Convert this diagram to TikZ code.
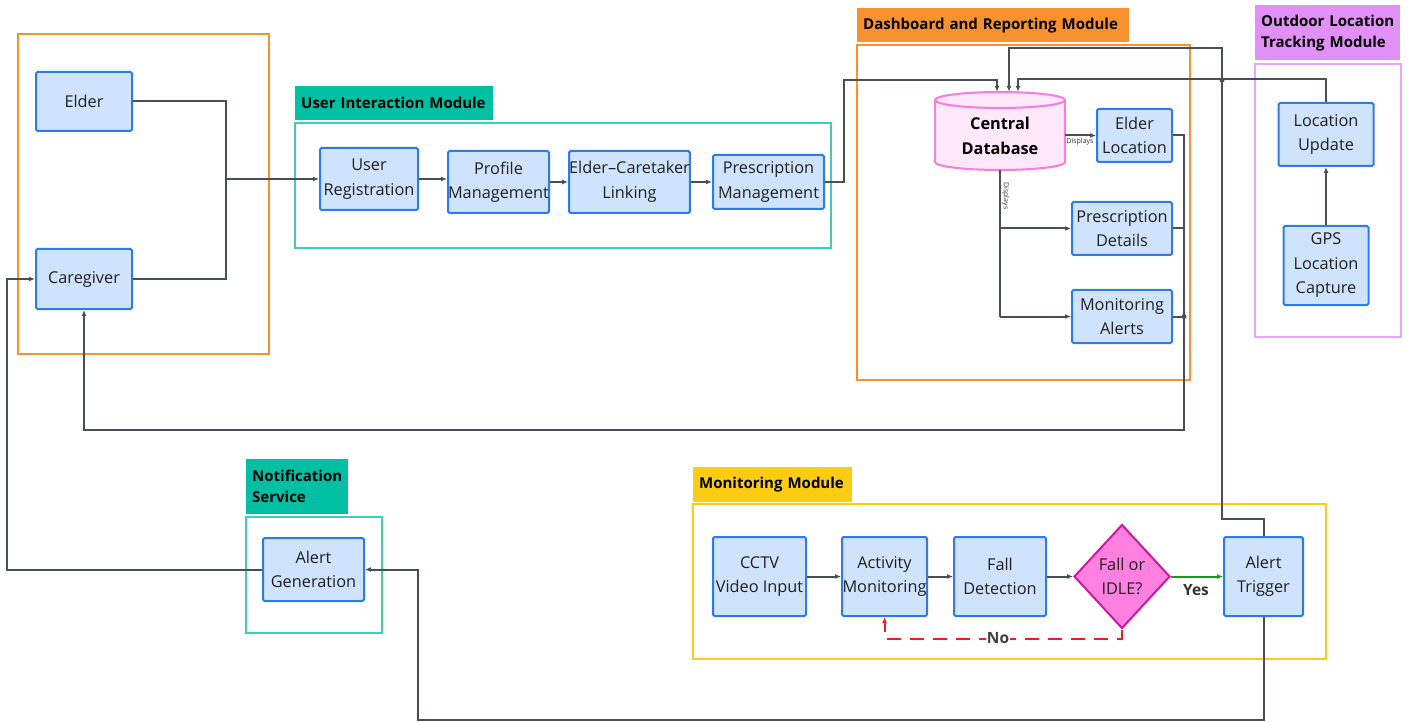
\documentclass[tikz,border=0pt]{standalone}
\usepackage{fontspec}
\setmainfont{Open Sans}
\usetikzlibrary{arrows.meta,shapes.geometric,calc}
\definecolor{boxfill}{HTML}{D0E3FC}
\definecolor{boxline}{HTML}{2E7BE6}
\definecolor{linec}{HTML}{4A4F57}
\definecolor{tealfill}{HTML}{00BFA3}
\definecolor{tealline}{HTML}{3CCFB5}
\definecolor{orangec}{HTML}{F7922E}
\definecolor{violetfill}{HTML}{E190F7}
\definecolor{violetline}{HTML}{E7A6F8}
\definecolor{yellowc}{HTML}{FCCC12}
\definecolor{dbfill}{HTML}{FEE8F9}
\definecolor{dbline}{HTML}{FF7BD9}
\definecolor{diafill}{HTML}{FF80DF}
\definecolor{dialine}{HTML}{D1169F}
\definecolor{greenc}{HTML}{1A9A1A}
\definecolor{redc}{HTML}{EE1C1C}
\tikzset{
  box/.style={draw=boxline, fill=boxfill, line width=2pt, rounded corners=1.5pt, align=center,
    inner sep=0pt, font=\fontsize{16.3}{24.5}\selectfont, text=black!88},
  modtitle/.style={anchor=north west, inner xsep=6pt, inner ysep=0pt, align=left,
    font=\bfseries\fontsize{15}{21}\selectfont, text=black},
  frameline/.style={line width=2pt},
  conn/.style={draw=linec, line width=2pt, -{Latex[length=6pt,width=5pt]}},
  plain/.style={draw=linec, line width=2pt},
  small/.style={font=\fontsize{7}{8}\selectfont, text=black!80, inner sep=1pt}
}
\begin{document}
\begin{tikzpicture}[x=1pt,y=-1pt]
\useasboundingbox (0,0) rectangle (1409,722);

% ---------- frames ----------
\draw[frameline, draw=orangec] (18,34) rectangle (269,354);
\draw[frameline, draw=tealline] (295,123) rectangle (831,248);
\draw[frameline, draw=orangec] (857,45) rectangle (1190,380);
\draw[frameline, draw=violetline] (1255,64) rectangle (1401,337);
\draw[frameline, draw=tealline] (246,517) rectangle (382,633);
\draw[frameline, draw=yellowc] (693,504) rectangle (1326,659);

% ---------- module titles ----------
\node[modtitle, fill=tealfill, minimum height=34pt, text width=186pt] (t1) at (295,86) {User Interaction Module};
\node[modtitle, fill=orangec, minimum height=34pt, text width=260pt] (t2) at (857,8) {Dashboard and Reporting Module};
\node[modtitle, fill=violetfill, minimum height=55pt, text width=133pt] (t3) at (1255,5) {Outdoor Location\\Tracking Module};
\node[modtitle, fill=tealfill, minimum height=55pt, text width=90pt] (t4) at (246,459) {Notification\\Service};
\node[modtitle, fill=yellowc, minimum height=35pt, text width=147pt] (t5) at (693,467) {Monitoring Module};

% ---------- boxes ----------
\node[box, minimum width=96pt, minimum height=59pt] (elder) at (84,101.5) {Elder};
\node[box, minimum width=96pt, minimum height=60pt] (cg) at (84,279) {Caregiver};
\node[box, minimum width=98pt, minimum height=62pt] (ur) at (369,179) {User\\Registration};
\node[box, minimum width=99pt, minimum height=62pt] (prof) at (498.5,182) {Profile\\Management};
\node[box, minimum width=117pt, minimum height=62pt] (link) at (629.5,182) {Elder--Caretaker\\Linking};
\node[box, minimum width=111pt, minimum height=54pt] (pm) at (768.5,182) {Prescription\\Management};

\node[box, minimum width=75pt, minimum height=53pt] (el) at (1134.5,135.5) {Elder\\Location};
\node[box, minimum width=100pt, minimum height=53pt] (pd) at (1122,228.5) {Prescription\\Details};
\node[box, minimum width=100pt, minimum height=53pt] (ma) at (1122,316.5) {Monitoring\\Alerts};

\node[box, minimum width=95pt, minimum height=63pt] (lu) at (1326,134.5) {Location\\Update};
\node[box, minimum width=85pt, minimum height=79pt] (gps) at (1326,265.5) {GPS\\Location\\Capture};

\node[box, minimum width=101pt, minimum height=63pt] (ag) at (313.5,569.5) {Alert\\Generation};

\node[box, minimum width=93pt, minimum height=79pt] (cctv) at (759.5,576.5) {CCTV\\Video Input};
\node[box, minimum width=85pt, minimum height=79pt] (act) at (884.5,576.5) {Activity\\Monitoring};
\node[box, minimum width=92pt, minimum height=79pt] (fall) at (1000,576.5) {Fall\\Detection};
\node[diamond, draw=dialine, fill=diafill, line width=2pt, inner sep=0pt, aspect=0.92,
  minimum width=96pt, minimum height=104pt, align=center,
  font=\fontsize{16.3}{24.5}\selectfont, text=black!88] (dia) at (1122,576.5) {Fall or\\IDLE?};
\node[box, minimum width=79pt, minimum height=79pt] (at) at (1263.5,576.5) {Alert\\Trigger};

% ---------- database ----------
\fill[dbfill] (935,100) rectangle (1065,162);
\filldraw[fill=dbfill, draw=dbline, line width=2pt] (1000,162) ellipse [x radius=65, y radius=8];
\fill[dbfill] (936,100) rectangle (1064,162);
\draw[dbline, line width=2pt] (935,100) -- (935,162) (1065,100) -- (1065,162);
\filldraw[fill=dbfill, draw=dbline, line width=2pt] (1000,100) ellipse [x radius=65, y radius=8];
\node[inner sep=0pt, minimum width=130pt, minimum height=78pt] (db) at (1000,131) {};
\node[inner sep=0pt, align=center, font=\bfseries\fontsize{16.3}{25}\selectfont] (dbt) at (1000,136) {Central\\Database};

% ---------- coordinates ----------
\coordinate (m1) at (226,179);
\coordinate (bus) at (1184,430);
\coordinate (j1) at (1222,48);
\coordinate (b1) at (418,720);
\coordinate (l1) at (7,279);
\coordinate (dv) at (1000,316.5);

% ---------- user side ----------
\draw[plain] (elder.east) -| (m1);
\draw[plain] (cg.east) -| (m1);
\draw[conn] (m1) -- (ur.west);
\draw[conn] (ur.east) -- (ur.east -| prof.west);
\draw[conn] (prof.east) -- (link.west);
\draw[conn] (link.east) -- (pm.west);

% ---------- into database ----------
\draw[conn] (pm.east) -- ++(19,0) |- ($(db.north)+(-3,-12)$) -- ($(db.north)+(-3,0)$);
\draw[conn] (at.north) -- ++(0,-17) -| (j1) -| ($(db.north)+(9,0)$);
\draw[conn] (lu.north) -- ++(0,-23) -| ($(db.north)+(18,0)$);
\fill[linec] (1222,80) circle (2.5pt);

% ---------- database displays ----------
\draw[conn] (db.east |- el.west) -- (el.west);
\node[small, anchor=north] (lbl1) at (1080,137) {Displays};
\draw[plain] (db.south) -- (dv);
\draw[conn] (dv) -- (ma.west);
\draw[conn] (db.south |- pd.west) -- (pd.west);
\node[small, anchor=west] (lbl2) at (1001,196) {\rotatebox{-90}{Displays}};

% ---------- dashboard to caregiver ----------
\draw[conn] (el.east) -| (bus) -| (cg.south);
\draw[plain] (pd.east) -- (pd.east -| bus);
\draw[plain] (ma.east) -- (ma.east -| bus);
\fill[linec] (ma.east -| bus) circle (2.5pt);

% ---------- location ----------
\draw[conn] (gps.north) -- (lu.south);

% ---------- monitoring ----------
\draw[conn] (cctv.east) -- (act.west);
\draw[conn] (act.east) -- (fall.west);
\draw[conn] (fall.east) -- (dia.west);
\draw[draw=greenc, line width=2pt, -{Latex[length=6pt,width=5pt]}] (dia.east) -- (at.west);
\node[font=\bfseries\fontsize{15.5}{18}\selectfont, text=black!80] (yes) at (1196,590) {Yes};
\draw[draw=redc, line width=2pt, dash pattern=on 14pt off 9pt, -{Latex[length=6pt,width=5pt]}]
  (dia.south) -- ++(0,9) -| (act.south);
\node[fill=white, inner sep=1pt, font=\bfseries\fontsize{15.5}{18}\selectfont, text=black!75] (no) at (998,638) {No};

% ---------- alert path ----------
\draw[conn] (at.south) |- (b1) |- (ag.east);
\draw[conn] (ag.west) -| (l1) -- (cg.west);
\end{tikzpicture}
\end{document}
